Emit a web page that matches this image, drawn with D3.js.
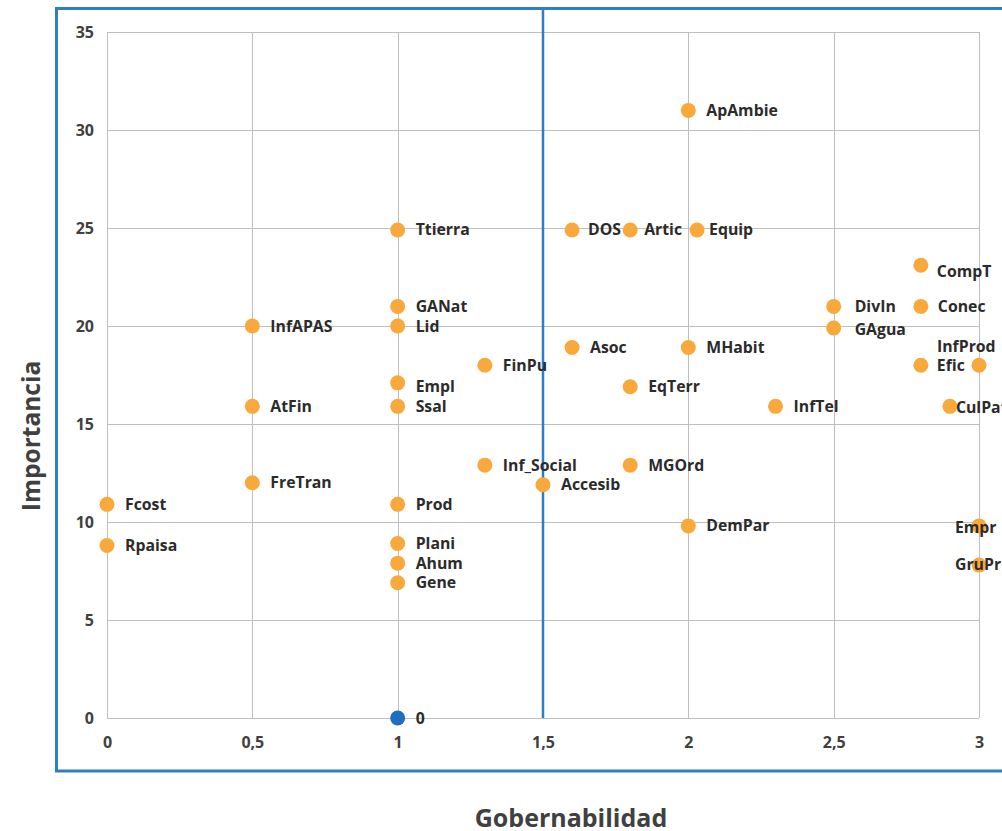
<!DOCTYPE html>
<html>
<head>
<meta charset="utf-8">
<script src="https://cdn.jsdelivr.net/npm/d3@7/dist/d3.min.js"></script>
<style>
  html, body { margin: 0; padding: 0; background: #ffffff; overflow: hidden; }
  svg { display: block; }
</style>
</head>
<body>
<svg id="chart" width="1002" height="831"></svg>
<script>
// ---- data ----
const names = ["ApAmbie","Ttierra","DOS","Artic","Equip","GANat","Lid","InfAPAS","Asoc","MHabit","FinPu","Empl","EqTerr","AtFin","Ssal","InfTel","Inf_Social","MGOrd","Accesib","FreTran","Fcost","Prod","DemPar","Rpaisa","Plani","Ahum","Gene","CompT","Conec","DivIn","GAgua","InfProd","Efic","CulPat","Empr","GruPr"];
const gobernabilidad = [2,1,1.6,1.8,2.03,1,1,0.5,1.6,2,1.3,1,1.8,0.5,1,2.3,1.3,1.8,1.5,0.5,0,1,2,0,1,1,1,2.8,2.8,2.5,2.5,3,2.8,2.9,3,3];
const importancia = [31,24.9,24.9,24.9,24.9,21,20,20,18.9,18.9,18,17.1,16.9,15.9,15.9,15.9,12.9,12.9,11.9,12,10.9,10.9,9.8,8.8,8.9,7.9,6.9,23.1,21,21,19.9,18,18,15.9,9.8,7.8];
const originName = "0";
const originPoint = [1, 0];
const xTicks = [0, 0.5, 1, 1.5, 2, 2.5, 3];
const xTickLabels = ["0","0,5","1","1,5","2","2,5","3"];
const yTicks = [0, 5, 10, 15, 20, 25, 30, 35];
const threshold = 1.5;
const xTitle = "Gobernabilidad";
const yTitle = "Importancia";

// ---- label placement (style only) ----
const labelOffset = {
  "CompT": [16, 6], "Empl": [18, 4], "DivIn": [21, 0], "Efic": [16, 0], "Conec": [17, 0],
  "InfProd": [-42, -19], "CulPat": [6, 1], "Empr": [-24, 2], "GruPr": [-24, -1],
  "GAgua": [21, 2], "MHabit": [18, 0], "EqTerr": [18, 0], "Equip": [12, 0], "Artic": [14, 0], "DOS": [16, 0]
};

const svg = d3.select("#chart");
const x = d3.scaleLinear().domain([0, 3]).range([107, 979]);
const y = d3.scaleLinear().domain([0, 35]).range([718, 32]);

const font = "'Open Sans', 'Noto Sans', sans-serif";

// outer box
svg.append("rect")
  .attr("x", 56.5).attr("y", 8.5).attr("width", 1002).attr("height", 762.5)
  .attr("fill", "none").attr("stroke", "#2F7DC4").attr("stroke-width", 3);

// gridlines
const grid = svg.append("g");
grid.selectAll("line.v").data(xTicks).join("line")
  .attr("x1", d => Math.round(x(d)) + 0.5).attr("x2", d => Math.round(x(d)) + 0.5)
  .attr("y1", y(35)).attr("y2", y(0))
  .attr("stroke", "#BFBFBF").attr("stroke-width", 1);
grid.selectAll("line.h").data(yTicks).join("line")
  .attr("x1", x(0)).attr("x2", x(3))
  .attr("y1", d => Math.round(y(d)) + 0.5).attr("y2", d => Math.round(y(d)) + 0.5)
  .attr("stroke", "#BFBFBF").attr("stroke-width", 1);

// threshold line
svg.append("line")
  .attr("x1", x(threshold)).attr("x2", x(threshold))
  .attr("y1", 9).attr("y2", y(0))
  .attr("stroke", "#2F7DC4").attr("stroke-width", 2.5);

// axes (via d3 axes, lines hidden)
const xAxis = svg.append("g").attr("transform", `translate(0,${y(0)})`)
  .call(d3.axisBottom(x).tickValues(xTicks).tickFormat((d, i) => xTickLabels[i]).tickSize(0).tickPadding(19));
const yAxis = svg.append("g").attr("transform", `translate(${x(0)},0)`)
  .call(d3.axisLeft(y).tickValues(yTicks).tickSize(0).tickPadding(13));
[xAxis, yAxis].forEach(a => {
  a.select(".domain").remove();
  a.selectAll("text").attr("font-family", font).attr("font-weight", "bold")
    .attr("font-size", 16).attr("fill", "#404040");
});

// points
const pts = names.map((n, i) => ({ name: n, gx: gobernabilidad[i], iy: importancia[i] }));
svg.append("g").selectAll("circle").data(pts).join("circle")
  .attr("cx", d => x(d.gx)).attr("cy", d => y(d.iy)).attr("r", 7.5)
  .attr("fill", "#F9A93B");

svg.append("circle").attr("cx", x(originPoint[0])).attr("cy", y(originPoint[1])).attr("r", 7.5)
  .attr("fill", "#1F6FBF");

// labels
svg.append("g").selectAll("text").data(pts).join("text")
  .attr("x", d => x(d.gx) + (labelOffset[d.name] ? labelOffset[d.name][0] : 18))
  .attr("y", d => y(d.iy) + (labelOffset[d.name] ? labelOffset[d.name][1] : 0))
  .attr("dy", "0.35em")
  .attr("font-family", font).attr("font-weight", "bold").attr("font-size", 15.8)
  .attr("fill", "#2B2B2B")
  .text(d => d.name);

svg.append("text")
  .attr("x", x(originPoint[0]) + 18).attr("y", y(originPoint[1])).attr("dy", "0.35em")
  .attr("font-family", font).attr("font-weight", "bold").attr("font-size", 15.8)
  .attr("fill", "#2B2B2B").text(originName);

// axis titles
svg.append("text")
  .attr("x", 571).attr("y", 827)
  .attr("text-anchor", "middle")
  .attr("font-family", font).attr("font-weight", "bold").attr("font-size", 25)
  .attr("fill", "#404040").text(xTitle);
svg.append("text")
  .attr("transform", "translate(40,436) rotate(-90)")
  .attr("text-anchor", "middle")
  .attr("font-family", font).attr("font-weight", "bold").attr("font-size", 24.5)
  .attr("fill", "#404040").text(yTitle);
</script>
</body>
</html>
